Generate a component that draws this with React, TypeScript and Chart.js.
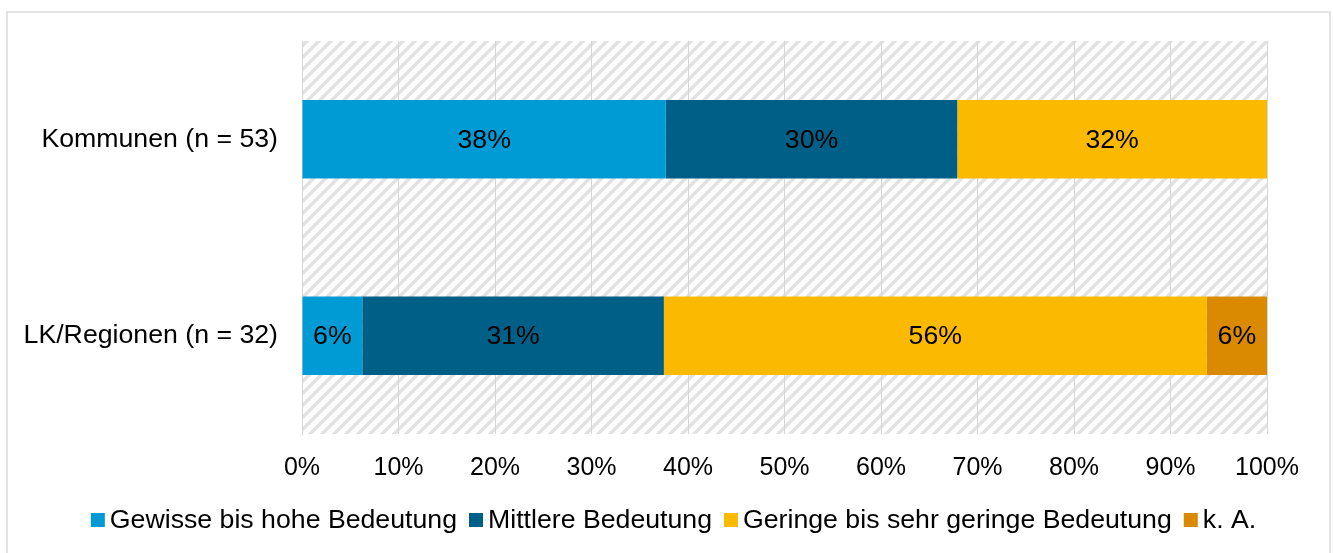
import React, { useEffect, useRef } from "react";
import { Chart, registerables } from "chart.js";

Chart.register(...registerables);

const categories = ["Kommunen (n = 53)", "LK/Regionen (n = 32)"];
const seriesNames = [
  "Gewisse bis hohe Bedeutung",
  "Mittlere Bedeutung",
  "Geringe bis sehr geringe Bedeutung",
  "k. A.",
];
const gewisse = [37.7, 6.25];
const mittlere = [30.2, 31.25];
const geringe = [32.1, 56.25];
const keineAngabe = [0, 6.25];
const seriesColors = ["#009BD5", "#005F87", "#FBBA00", "#D98A00"];
const xTickStep = 10;

const FONT = "'Liberation Sans', Arial, sans-serif";
const LABEL_SIZE = 26.7;

function makePattern(): CanvasPattern | string {
  const size = 12;
  const c = document.createElement("canvas");
  c.width = size;
  c.height = size;
  const g = c.getContext("2d");
  if (!g) return "#fff";
  g.fillStyle = "#ffffff";
  g.fillRect(0, 0, size, size);
  g.strokeStyle = "#e2e2e2";
  g.lineWidth = 3.5;
  g.beginPath();
  g.moveTo(-size, size * 2);
  g.lineTo(size * 2, -size);
  g.moveTo(-size, size);
  g.lineTo(size, -size);
  g.moveTo(0, size * 2);
  g.lineTo(size * 2, 0);
  g.stroke();
  const p = g.createPattern(c, "repeat");
  return p || "#fff";
}

const hatchPlugin = {
  id: "hatchBg",
  beforeDraw(chart: any) {
    const { ctx, chartArea } = chart;
    if (!chartArea) return;
    ctx.save();
    ctx.fillStyle = makePattern();
    ctx.fillRect(
      chartArea.left,
      chartArea.top,
      chartArea.right - chartArea.left,
      chartArea.bottom - chartArea.top
    );
    ctx.restore();
  },
};

const dataLabelPlugin = {
  id: "dataLabels",
  afterDatasetsDraw(chart: any) {
    const { ctx } = chart;
    ctx.save();
    ctx.font = `${LABEL_SIZE}px ${FONT}`;
    ctx.fillStyle = "#000";
    ctx.textAlign = "center";
    ctx.textBaseline = "middle";
    chart.data.datasets.forEach((ds: any, di: number) => {
      const meta = chart.getDatasetMeta(di);
      meta.data.forEach((el: any, i: number) => {
        const v = ds.data[i];
        if (!v) return;
        const cx = (el.x + el.base) / 2;
        ctx.fillText(Math.round(v) + "%", cx, el.y + 1);
      });
    });
    ctx.restore();
  },
};

const legendPlugin = {
  id: "customLegend",
  afterDraw(chart: any) {
    const { ctx } = chart;
    const box = 14;
    const gap = 5;
    const itemGap = 12;
    ctx.save();
    ctx.font = `${LABEL_SIZE}px ${FONT}`;
    ctx.textBaseline = "middle";
    ctx.textAlign = "left";
    const widths = chart.data.datasets.map(
      (ds: any) => box + gap + ctx.measureText(ds.label).width
    );
    const total =
      widths.reduce((a: number, b: number) => a + b, 0) +
      itemGap * (widths.length - 1);
    let x = 673.5 - total / 2;
    const cy = 520;
    chart.data.datasets.forEach((ds: any, i: number) => {
      ctx.fillStyle = ds.backgroundColor;
      ctx.fillRect(x, cy - box / 2, box, box);
      ctx.fillStyle = "#000";
      ctx.fillText(ds.label, x + box + gap, cy + 1);
      x += widths[i] + itemGap;
    });
    ctx.restore();
  },
};

export default function App() {
  const ref = useRef<HTMLCanvasElement | null>(null);

  useEffect(() => {
    document.body.style.margin = "0";
    const canvas = ref.current;
    if (!canvas) return;
    const seriesData = [gewisse, mittlere, geringe, keineAngabe];
    const chart = new Chart(canvas, {
      type: "bar",
      data: {
        labels: categories,
        datasets: seriesNames.map((name, i) => ({
          label: name,
          data: seriesData[i],
          backgroundColor: seriesColors[i],
          borderWidth: 0,
          barPercentage: 0.4,
          categoryPercentage: 1,
        })),
      },
      options: {
        indexAxis: "y",
        responsive: false,
        animation: false,
        layout: { padding: { left: 0, right: 66, top: 41, bottom: 0 } },
        plugins: {
          legend: { display: false },
          tooltip: { enabled: false },
        },
        scales: {
          x: {
            stacked: true,
            min: 0,
            max: 100,
            ticks: {
              stepSize: xTickStep,
              callback: (v: any) => v + "%",
              font: { family: FONT, size: 25 },
              color: "#000",
              padding: 19,
              maxRotation: 0,
            },
            grid: { color: "#d6d6d6", drawTicks: false, lineWidth: 1 },
            border: { display: false },
            afterFit: (s: any) => {
              s.height = 119;
            },
          },
          y: {
            stacked: true,
            ticks: {
              font: { family: FONT, size: LABEL_SIZE },
              color: "#000",
              padding: 24,
            },
            grid: { display: false, drawTicks: false },
            border: { display: true, color: "#d6d6d6" },
            afterFit: (s: any) => {
              s.width = 302;
            },
          },
        },
      } as any,
      plugins: [hatchPlugin, dataLabelPlugin, legendPlugin],
    });
    return () => chart.destroy();
  }, []);

  return (
    <div style={{ position: "absolute", left: 0, top: 0, width: 1333, height: 553, background: "#fff" }}>
      <div
        style={{
          position: "absolute",
          left: 6,
          top: 11,
          width: 1325,
          height: 600,
          border: "2px solid #e3e3e3",
          boxSizing: "border-box",
        }}
      />
      <canvas
        ref={ref}
        width={1333}
        height={553}
        style={{ position: "absolute", left: 0, top: 0, width: 1333, height: 553 }}
      />
    </div>
  );
}
